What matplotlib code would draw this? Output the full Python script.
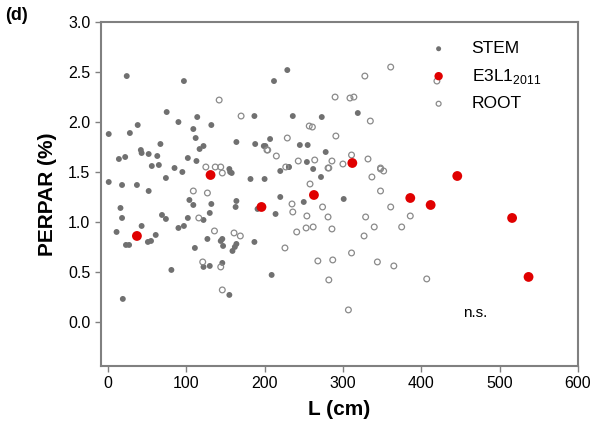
import matplotlib.pyplot as plt

plt.rcParams['font.family'] = ['Liberation Sans', 'DejaVu Sans']

# ---- data ----
stem_L = [24, 97, 75, 1, 28, 38, 90, 114, 109, 112, 132, 67, 42, 43, 52, 63, 14, 22,
          56, 65, 85, 102, 113, 117, 122, 164, 187, 188, 199, 155,
          229, 212, 236, 273, 319, 207, 201, 245, 255, 278, 254, 231,
          95, 1, 18, 37, 74, 52, 104, 109, 132, 156, 158, 182, 200, 164, 163, 191,
          16, 18, 69, 74, 102, 122, 130, 90, 97, 43, 11, 61, 51, 55, 23, 27, 111,
          127, 146, 144, 147, 164, 162, 159, 187, 81, 122, 130, 146, 19, 155,
          220, 231, 262, 272, 220, 250, 214, 301, 209]
stem_P = [2.46, 2.41, 2.10, 1.88, 1.89, 1.97, 2.00, 2.05, 1.93, 1.84, 1.97, 1.78, 1.72, 1.69,
          1.68, 1.66, 1.63, 1.65, 1.56, 1.57, 1.54, 1.64, 1.61, 1.73, 1.76, 1.80, 2.06, 1.78,
          1.76, 1.53,
          2.52, 2.41, 2.06, 2.05, 2.09, 1.83, 1.76, 1.77, 1.77, 1.70, 1.60, 1.55,
          1.50, 1.40, 1.37, 1.37, 1.44, 1.31, 1.22, 1.17, 1.18, 1.50, 1.49, 1.43, 1.43,
          1.21, 1.15, 1.13,
          1.14, 1.04, 1.07, 1.03, 1.04, 1.02, 1.09, 0.94, 0.96, 0.96, 0.90, 0.87, 0.80,
          0.81, 0.77, 0.77, 0.74, 0.83, 0.83, 0.81, 0.76, 0.78, 0.75, 0.71, 0.80, 0.52,
          0.55, 0.56, 0.59, 0.23, 0.27,
          1.51, 1.55, 1.53, 1.45, 1.25, 1.20, 1.08, 1.23, 0.47]

root_L = [142, 170, 125, 137, 144, 203, 361, 328, 290, 309, 314, 335, 257, 261, 291,
          229, 204, 215, 243, 264, 286, 311, 332, 300, 281, 227, 348, 420,
          146, 109, 127, 116, 136, 161, 169, 121, 144, 146,
          282, 337, 348, 352, 258, 348, 235, 236, 274, 254, 281, 329, 361, 386,
          241, 253, 262, 286, 327, 340, 375, 226, 311, 268, 287, 344, 365, 282, 407, 307]
root_P = [2.22, 2.06, 1.55, 1.55, 1.55, 1.72, 2.55, 2.46, 2.25, 2.24, 2.25, 2.01, 1.96,
          1.95, 1.86, 1.84, 1.72, 1.66, 1.61, 1.62, 1.61, 1.67, 1.63, 1.58, 1.54, 1.55,
          1.54, 2.41,
          1.49, 1.31, 1.29, 1.04, 0.91, 0.89, 0.86, 0.60, 0.55, 0.32,
          1.54, 1.45, 1.53, 1.51, 1.38, 1.31, 1.18, 1.10, 1.15, 1.06, 1.05, 1.05, 1.15,
          1.06, 0.90, 0.94, 0.95, 0.93, 0.86, 0.95, 0.95, 0.74, 0.69, 0.61, 0.62, 0.60,
          0.56, 0.42, 0.43, 0.12]

e3_L = [37, 131, 196, 263, 312, 386, 412, 446, 516, 537]
e3_P = [0.86, 1.47, 1.15, 1.27, 1.59, 1.24, 1.17, 1.46, 1.04, 0.45]

xticks = [0, 100, 200, 300, 400, 500, 600]
yticks = [0.0, 0.5, 1.0, 1.5, 2.0, 2.5, 3.0]

# ---- plot ----
fig = plt.figure(figsize=(5.97, 4.33), dpi=100)
ax = fig.add_axes([0.169, 0.155, 0.799, 0.794])

ax.scatter(stem_L, stem_P, s=18, color='#707070', edgecolors='none', label='STEM', zorder=2)
ax.scatter(e3_L, e3_P, s=50, color='#e00000', edgecolors='none',
           label=r'E3L1$_{\mathregular{2011}}$', zorder=4)
ax.scatter(root_L, root_P, s=17, facecolors='none', edgecolors='#8a8a8a',
           linewidths=0.9, label='ROOT', zorder=3)

ax.set_xlim(-9, 600)
ax.set_ylim(-0.44, 3.0)
ax.set_xticks(xticks)
ax.set_yticks(yticks)
ax.set_yticklabels([f'{t:.1f}' for t in yticks])
ax.tick_params(labelsize=11.5, length=4, width=1, color='#808080', direction='out')

for sp in ax.spines.values():
    sp.set_color('#808080')
    sp.set_linewidth(1.5)

ax.set_xlabel('L (cm)', fontsize=15, fontweight='bold', labelpad=6)
ax.set_ylabel('PERPAR (%)', fontsize=15, fontweight='bold', labelpad=8)

ax.legend(loc='upper right', bbox_to_anchor=(0.955, 0.99), frameon=False, fontsize=12.5,
          handletextpad=0.9, labelspacing=0.6, markerscale=0.85)

ax.text(454, 0.09, 'n.s.', fontsize=11, ha='left', va='center')
fig.text(0.008, 0.965, '(d)', fontsize=13, fontweight='bold', ha='left', va='center')

fig.savefig('out.png', dpi=100)
